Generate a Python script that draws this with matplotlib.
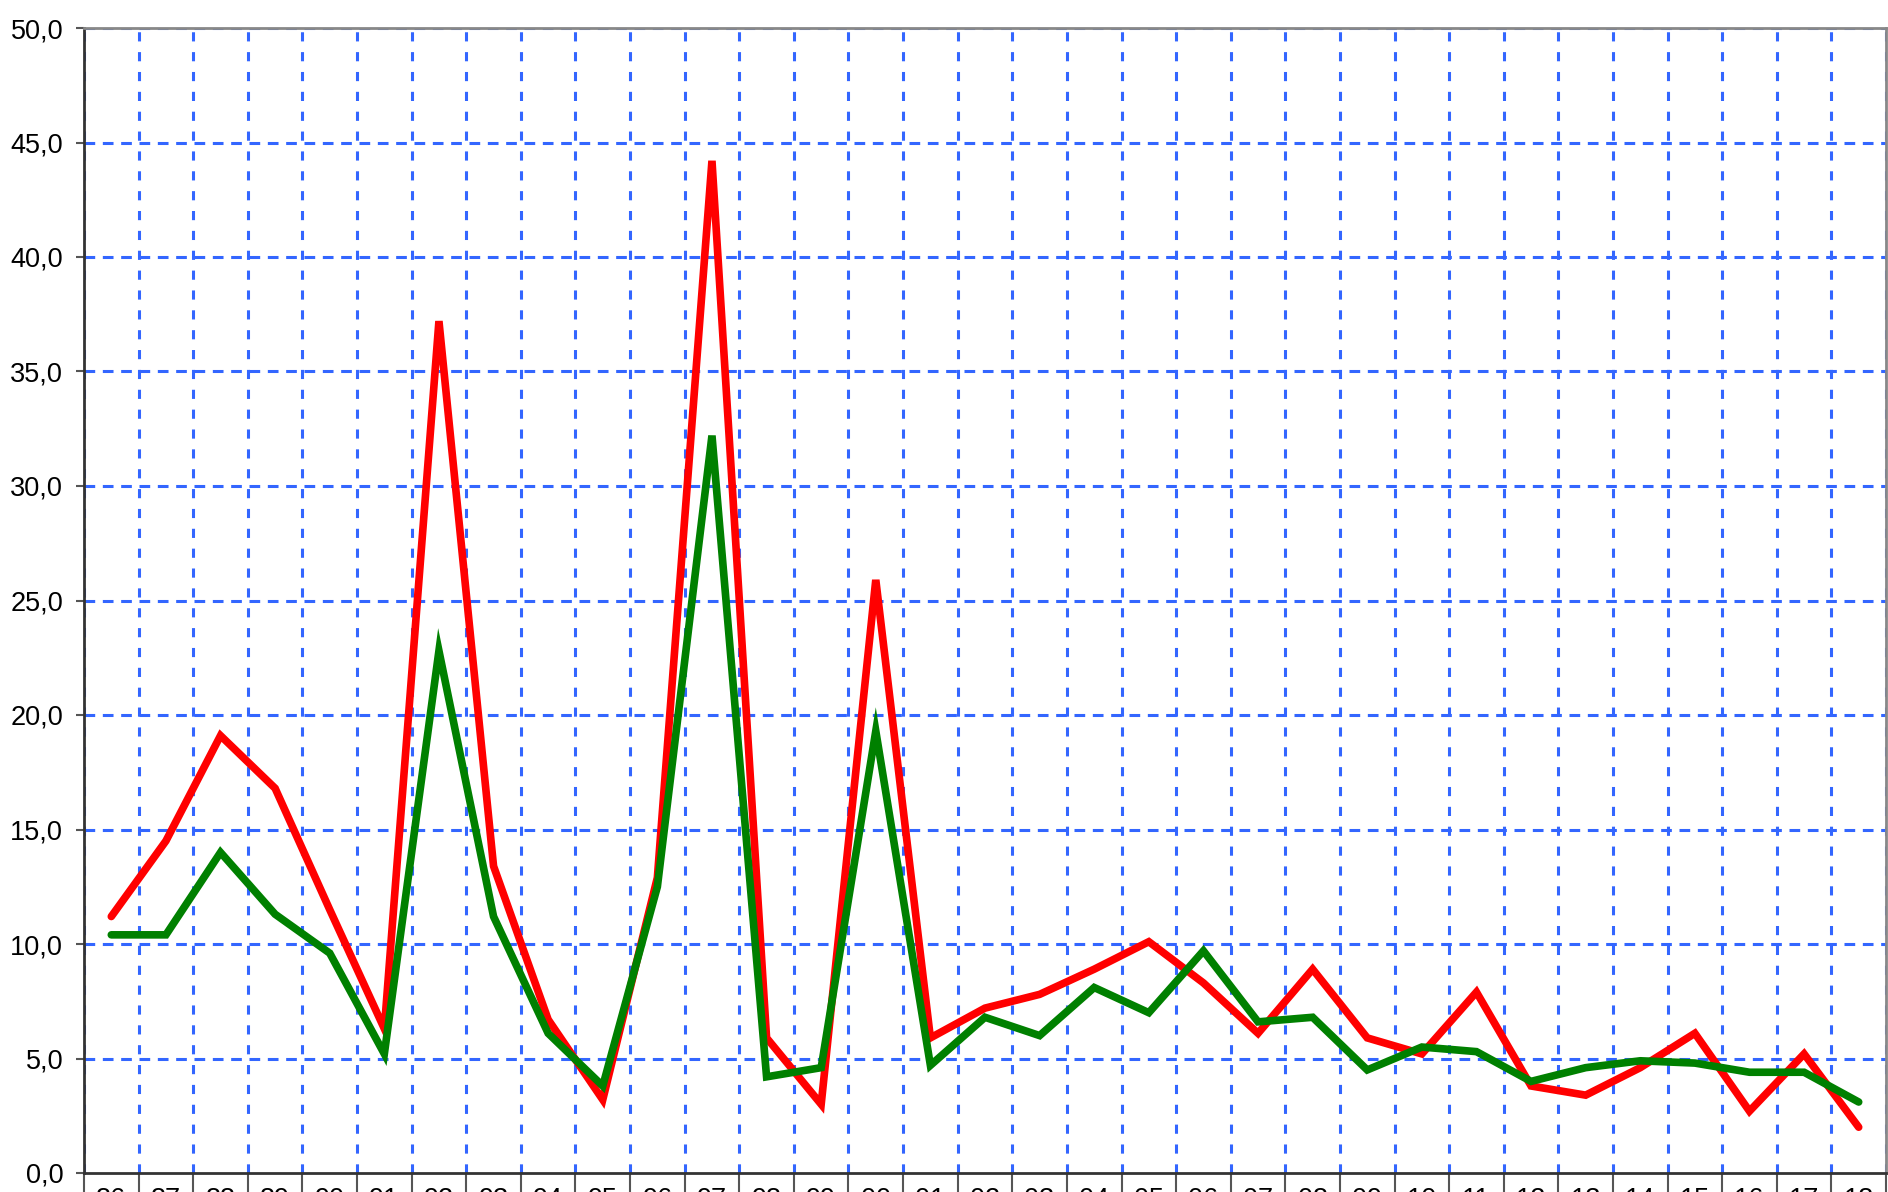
import matplotlib
matplotlib.use("Agg")
import matplotlib.pyplot as plt
from matplotlib.ticker import FixedLocator, FuncFormatter

years = ["86", "87", "88", "89", "90", "91", "92", "93", "94", "95", "96", "97",
         "98", "99", "00", "01", "02", "03", "04", "05", "06", "07", "08", "09",
         "10", "11", "12", "13", "14", "15", "16", "17", "18"]
red_values = [11.2, 14.5, 19.1, 16.8, 11.5, 6.3, 37.2, 13.4, 6.7, 3.2, 12.9, 44.2,
              5.9, 3.0, 25.9, 5.9, 7.2, 7.8, 8.9, 10.1, 8.3, 6.1, 8.9, 5.9,
              5.2, 7.9, 3.8, 3.4, 4.6, 6.1, 2.7, 5.2, 2.0]
green_values = [10.4, 10.4, 14.0, 11.3, 9.6, 5.2, 22.8, 11.2, 6.1, 3.8, 12.5, 32.2,
                4.2, 4.6, 19.3, 4.7, 6.8, 6.0, 8.1, 7.0, 9.7, 6.6, 6.8, 4.5,
                5.5, 5.3, 4.0, 4.6, 4.9, 4.8, 4.4, 4.4, 3.1]
y_ticks = [0, 5, 10, 15, 20, 25, 30, 35, 40, 45, 50]

plt.rcParams['font.family'] = ['Liberation Sans', 'DejaVu Sans']

fig = plt.figure(figsize=(18.88, 11.92), dpi=100)
ax = fig.add_axes([84 / 1888, 1 - 1173 / 1192, (1886 - 84) / 1888, (1173 - 28) / 1192])

x = list(range(len(years)))
ax.plot(x, red_values, color="#FF0000", lw=5.5, solid_capstyle="round",
        solid_joinstyle="miter", zorder=4)
ax.plot(x, green_values, color="#008000", lw=5.5, solid_capstyle="round",
        solid_joinstyle="miter", zorder=5)

ax.set_xlim(-0.5, len(years) - 0.5)
ax.set_ylim(0, 50)

ax.set_yticks(y_ticks)
ax.yaxis.set_major_formatter(FuncFormatter(lambda v, p: f"{v:.1f}".replace(".", ",")))
ax.set_xticks(x)
ax.set_xticklabels(years)
ax.xaxis.set_minor_locator(FixedLocator([i + 0.5 for i in range(-1, len(years))]))

ax.tick_params(axis="y", which="major", length=6, width=1.5, color="#555555",
               labelsize=19.5, pad=9)
ax.tick_params(axis="x", which="major", length=0, labelsize=19.5, pad=10)
ax.tick_params(axis="x", which="minor", length=25, width=1.5, color="#555555")

ax.grid(False)
for yv in y_ticks[1:]:
    ax.axhline(yv, color="#3366FF", lw=2.2, ls=(0, (3.5, 2.5)), zorder=2)
ax.xaxis.grid(True, which="minor", color="#3366FF", lw=2.2, ls=(0, (3, 3.5)), zorder=2)
ax.set_axisbelow(True)

for side in ["left", "bottom"]:
    ax.spines[side].set_color("#333333")
    ax.spines[side].set_linewidth(2)
for side in ["top", "right"]:
    ax.spines[side].set_color("#888888")
    ax.spines[side].set_linewidth(2)

fig.savefig("out.png", dpi=100)
